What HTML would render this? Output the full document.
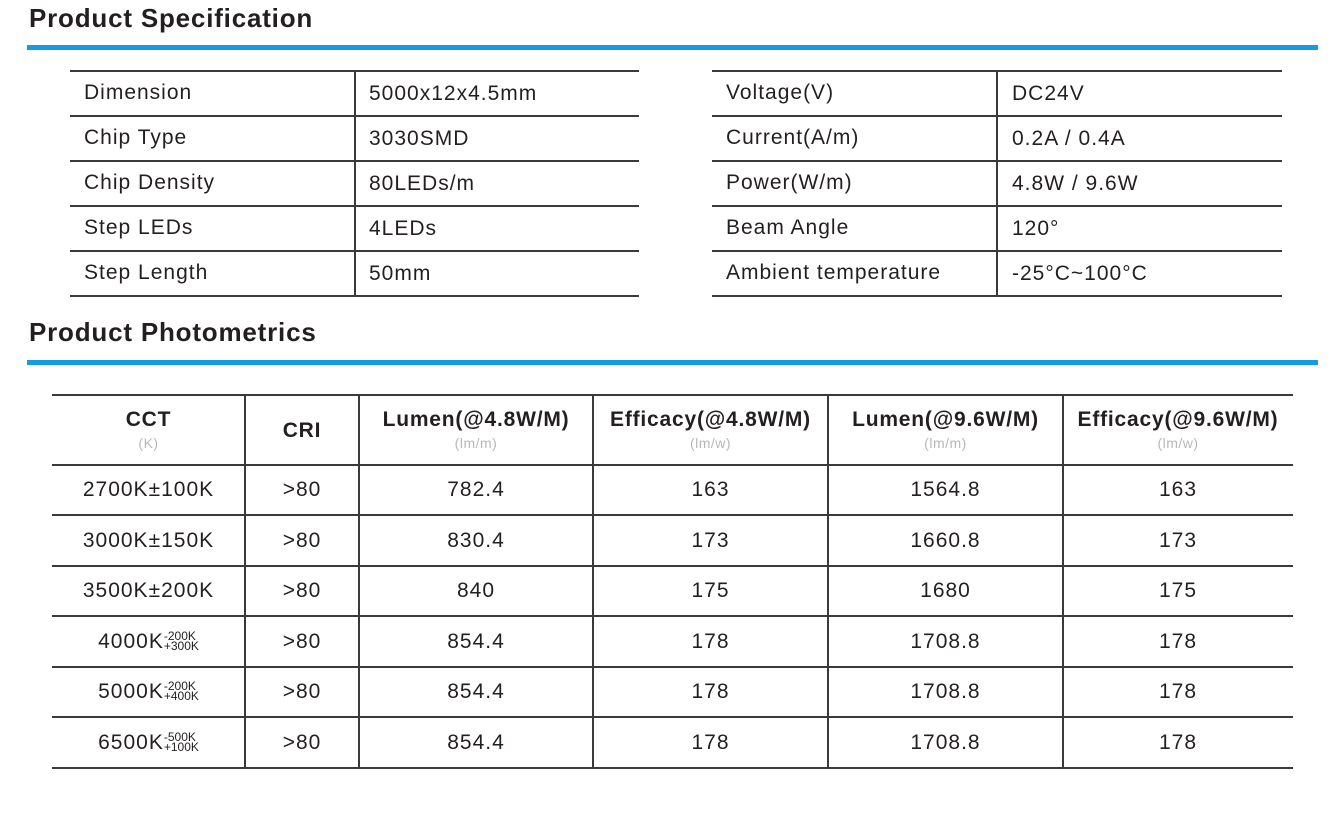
<!DOCTYPE html>
<html><head><meta charset="utf-8"><style>
body{margin:0;background:#fff;width:1337px;height:816px;position:relative;overflow:hidden;font-family:"Liberation Sans",Arial,sans-serif;color:#231f20}
.a{position:absolute}
.h{font-weight:bold;font-size:26px;letter-spacing:0.8px;color:#231f20}
.bar{background:#179be0;height:5px}
.hl{height:2px;background:#3a3a3a}
.vl{width:2px;background:#3a3a3a}
.t{font-size:21px;letter-spacing:1px;line-height:24px;white-space:nowrap}
.c{text-align:center}
.th{font-weight:bold;font-size:21px;letter-spacing:0.8px;text-align:center;white-space:nowrap}
.u{font-size:14px;color:#b8b8b8;text-align:center;letter-spacing:0.5px}
sup.s{display:inline-block;vertical-align:-2px;font-size:12px;line-height:10px;text-align:left;letter-spacing:0}
</style></head><body>
<div class="a h" style="left:29px;top:3px">Product Specification</div>
<div class="a bar" style="left:27px;top:45px;width:1291px"></div>

<div id="spec"></div>

<div class="a h" style="left:29px;top:317px">Product Photometrics</div>
<div class="a bar" style="left:27px;top:360px;width:1291px"></div>

<div id="photo"></div>

<script>
const specLeft=[["Dimension","5000x12x4.5mm"],["Chip Type","3030SMD"],["Chip Density","80LEDs/m"],["Step LEDs","4LEDs"],["Step Length","50mm"]];
const specRight=[["Voltage(V)","DC24V"],["Current(A/m)","0.2A / 0.4A"],["Power(W/m)","4.8W / 9.6W"],["Beam Angle","120°"],["Ambient temperature","-25°C~100°C"]];
const rowLines=[71,116,161,206,251,296];
function mk(parent,cls,style,name,html){
  const d=document.createElement('div');
  d.className='a '+cls;
  d.setAttribute('style',style);
  
  
  if(html!==undefined)d.innerHTML=html;
  document.body.appendChild(d);return d;
}
function specTable(data,x0,x1,xd,tx1,tx2,prefix){
  rowLines.forEach((y,i)=>mk(null,'hl',`left:${x0}px;top:${y-1}px;width:${x1-x0}px`,prefix+'-row-line'));
  mk(null,'vl',`left:${xd-1}px;top:${rowLines[0]}px;height:${rowLines[5]-rowLines[0]}px`,prefix+'-divider');
  data.forEach((r,i)=>{
    const yc=(rowLines[i]+rowLines[i+1])/2;
    mk(null,'t',`left:${tx1}px;top:${yc-13}px`,prefix+'-label',r[0]);
    mk(null,'t',`left:${tx2}px;top:${yc-12}px`,prefix+'-value',r[1]);
  });
}
specTable(specLeft,70,639,355,84,369,'spec-left');
specTable(specRight,712,1282,997,726,1012,'spec-right');

const cols=[52,245,359,593,828,1063,1293];
const headers=[["CCT","(K)"],["CRI",""],["Lumen(@4.8W/M)","(lm/m)"],["Efficacy(@4.8W/M)","(lm/w)"],["Lumen(@9.6W/M)","(lm/m)"],["Efficacy(@9.6W/M)","(lm/w)"]];
const cct=["2700K±100K","3000K±150K","3500K±200K","4000K<sup class='s'>-200K<br>+300K</sup>","5000K<sup class='s'>-200K<br>+400K</sup>","6500K<sup class='s'>-500K<br>+100K</sup>"];
const cri=[">80",">80",">80",">80",">80",">80"];
const lumen48=["782.4","830.4","840","854.4","854.4","854.4"];
const eff48=["163","173","175","178","178","178"];
const lumen96=["1564.8","1660.8","1680","1708.8","1708.8","1708.8"];
const eff96=["163","173","175","178","178","178"];
const pLines=[395,465,515,566,616,667,717,768];
pLines.forEach(y=>mk(null,'hl',`left:52px;top:${y-1}px;width:1241px`,'photometrics-row-line'));
cols.slice(1,6).forEach(x=>mk(null,'vl',`left:${x-1}px;top:395px;height:373px`,'photometrics-col-line'));
headers.forEach((h,i)=>{
  const l=cols[i],w=cols[i+1]-l;
  if(h[1]){
    mk(null,'th',`left:${l}px;top:408px;width:${w}px`,'header-'+i,h[0]);
    mk(null,'u',`left:${l}px;top:435px;width:${w}px`,'header-unit-'+i,h[1]);
  } else mk(null,'th',`left:${l}px;top:419px;width:${w}px`,'header-'+i,h[0]);
});
const colsData=[cct,cri,lumen48,eff48,lumen96,eff96];
colsData.forEach((arr,ci)=>{
  arr.forEach((v,ri)=>{
    const yc=(pLines[ri+1]+pLines[ri+2])/2;
    const l=cols[ci],w=cols[ci+1]-l;
    mk(null,'t c',`left:${l}px;top:${yc-12}px;width:${w}px`,'cell',v);
  });
});
</script>
</body></html>
